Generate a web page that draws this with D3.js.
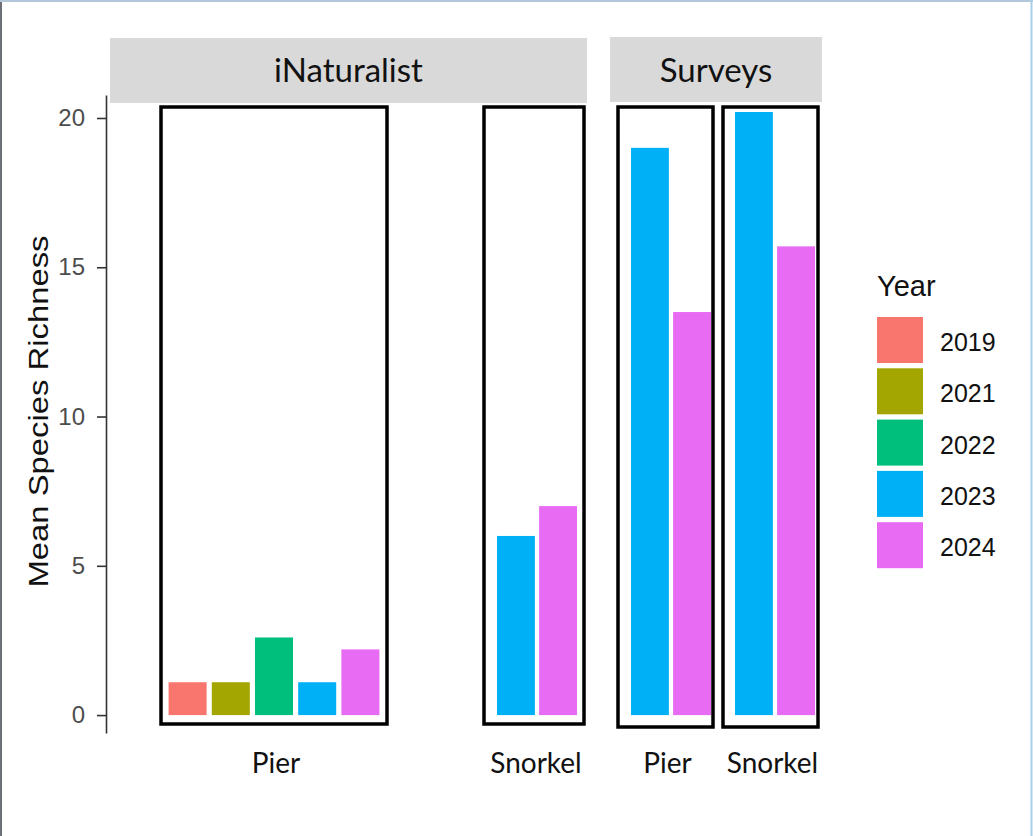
<!DOCTYPE html>
<html>
<head>
<meta charset="utf-8">
<script src="https://cdn.jsdelivr.net/npm/d3@7"></script>
<style>
  body { margin: 0; background: #fff; }
  svg { display: block; }
</style>
</head>
<body>
<div id="chart"></div>
<script>
var w = 1033,
  h = 836;

// data
var years = ["2019", "2021", "2022", "2023", "2024"];
var colors = ["#F8766D", "#A3A500", "#00BF7D", "#00B0F6", "#E76BF3"];
var yTicks = [0, 5, 10, 15, 20];

var inatPier = [
  { year: "2019", value: 1.1 },
  { year: "2021", value: 1.1 },
  { year: "2022", value: 2.6 },
  { year: "2023", value: 1.1 },
  { year: "2024", value: 2.2 },
];
var inatSnorkel = [
  { year: "2023", value: 6.0 },
  { year: "2024", value: 7.0 },
];
var surveysPier = [
  { year: "2023", value: 19.0 },
  { year: "2024", value: 13.5 },
];
var surveysSnorkel = [
  { year: "2023", value: 20.2 },
  { year: "2024", value: 15.7 },
];

// layout of the panels (pixel extents of each boxed group)
var panels = [
  { source: "iNaturalist", site: "Pier", data: inatPier, box: [161, 387], bars: [166, 382], pad: 0.12, bottom: 724 },
  { source: "iNaturalist", site: "Snorkel", data: inatSnorkel, box: [484, 584], bars: [497, 577], pad: 0.1, bottom: 724 },
  { source: "Surveys", site: "Pier", data: surveysPier, box: [618, 713], bars: [631, 711], pad: 0.1, bottom: 727 },
  { source: "Surveys", site: "Snorkel", data: surveysSnorkel, box: [723, 818], bars: [735, 815], pad: 0.1, bottom: 727 },
];
var strips = [
  { label: "iNaturalist", x0: 110, x1: 587, y0: 38, y1: 103 },
  { label: "Surveys", x0: 610, x1: 822, y0: 37, y1: 102 },
];

var color = d3.scaleOrdinal().domain(years).range(colors);

var svg = d3
  .select("#chart")
  .append("svg")
  .attr("width", w)
  .attr("height", h);

svg.append("rect").attr("width", w).attr("height", h).attr("fill", "#fff");

var y = d3.scaleLinear().domain([-0.6, 20.77]).range([733, 95]);

// strips
var strip = svg
  .selectAll(".strip")
  .data(strips)
  .enter()
  .append("g")
  .attr("class", "strip");

strip
  .append("rect")
  .attr("x", (d) => d.x0)
  .attr("y", (d) => d.y0)
  .attr("width", (d) => d.x1 - d.x0)
  .attr("height", (d) => d.y1 - d.y0)
  .attr("fill", "#D9D9D9");

strip
  .append("text")
  .attr("x", (d) => (d.x0 + d.x1) / 2)
  .attr("y", 82)
  .attr("text-anchor", "middle")
  .style("font-family", "Lato, 'Open Sans', sans-serif")
  .style("font-size", "33px")
  .attr("fill", "#111")
  .text((d) => d.label);

// y axis
var yAxis = svg
  .append("g")
  .attr("transform", "translate(106,0)")
  .call(
    d3.axisLeft(y).tickValues(yTicks).tickSize(9).tickSizeOuter(0).tickPadding(12)
  );
yAxis.select(".domain").attr("stroke", "#333").attr("stroke-width", 1.6);
yAxis.selectAll(".tick line").attr("stroke", "#333").attr("stroke-width", 1.6);
yAxis
  .selectAll(".tick text")
  .attr("fill", "#4D4D4D")
  .style("font-family", "'Liberation Sans', Arial, sans-serif")
  .style("font-size", "24px");

svg
  .append("text")
  .attr("transform", `translate(48,${y(10) - 5})rotate(-90)`)
  .attr("text-anchor", "middle")
  .attr("textLength", 352)
  .attr("lengthAdjust", "spacingAndGlyphs")
  .style("font-family", "'Liberation Sans', Arial, sans-serif")
  .style("font-size", "28px")
  .attr("fill", "#111")
  .text("Mean Species Richness");

// panels
panels.forEach((p) => {
  var x = d3
    .scaleBand()
    .domain(p.data.map((d) => d.year))
    .range(p.bars)
    .paddingInner(p.pad)
    .paddingOuter(p.data.length > 2 ? 0.06 : 0);

  var g = svg.append("g").attr("class", "panel");

  g.selectAll("rect.bar")
    .data(p.data)
    .enter()
    .append("rect")
    .attr("class", "bar")
    .attr("x", (d) => x(d.year))
    .attr("width", x.bandwidth())
    .attr("y", (d) => y(d.value))
    .attr("height", (d) => y(0) - y(d.value))
    .attr("fill", (d) => color(d.year));

  g.append("rect")
    .attr("x", p.box[0])
    .attr("y", 107)
    .attr("width", p.box[1] - p.box[0])
    .attr("height", p.bottom - 107)
    .attr("fill", "none")
    .attr("stroke", "#000")
    .attr("stroke-width", 3.5);

  g.append("text")
    .attr("x", (p.box[0] + p.box[1]) / 2 + 2)
    .attr("y", 773)
    .attr("text-anchor", "middle")
    .style("font-family", "Lato, 'Open Sans', sans-serif")
    .style("font-size", "28px")
    .attr("fill", "#111")
    .text(p.site);
});

// legend
var legend = svg.append("g").attr("transform", "translate(877,0)");

legend
  .append("text")
  .attr("x", 0)
  .attr("y", 296)
  .style("font-family", "'Liberation Sans', Arial, sans-serif")
  .style("font-size", "29px")
  .attr("fill", "#111")
  .text("Year");

var item = legend
  .selectAll(".item")
  .data(years)
  .enter()
  .append("g")
  .attr("class", "item")
  .attr("transform", (d, i) => `translate(0,${317 + i * 51.3})`);

item
  .append("rect")
  .attr("width", 46)
  .attr("height", 46)
  .attr("fill", (d) => color(d));

item
  .append("text")
  .attr("x", 63)
  .attr("y", 25)
  .attr("dy", "0.36em")
  .style("font-family", "'Liberation Sans', Arial, sans-serif")
  .style("font-size", "25px")
  .attr("fill", "#111")
  .text((d) => d);

// window frame
svg.append("line").attr("x1", 1).attr("x2", 1).attr("y1", 0).attr("y2", h)
  .attr("stroke", "#6e7078").attr("stroke-width", 2);
svg.append("line").attr("x1", 0).attr("x2", w).attr("y1", 1).attr("y2", 1)
  .attr("stroke", "#b4c8dc").attr("stroke-width", 2);
svg.append("line").attr("x1", w - 1.5).attr("x2", w - 1.5).attr("y1", 0).attr("y2", h)
  .attr("stroke", "#a9cfe8").attr("stroke-width", 2);
</script>
</body>
</html>
